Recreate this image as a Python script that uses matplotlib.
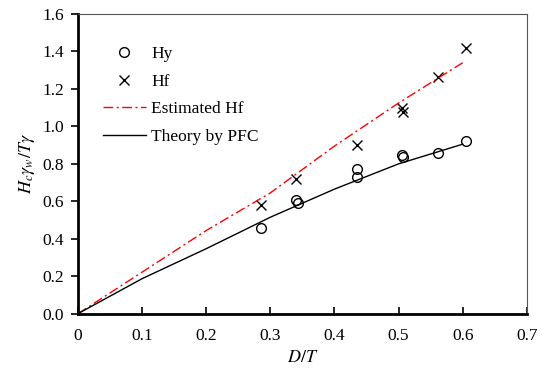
import numpy as np
import matplotlib.pyplot as plt

plt.rcParams['font.family'] = ['Liberation Serif', 'DejaVu Serif']
plt.rcParams['mathtext.fontset'] = 'stix'

# measured points
hy_x = [0.285, 0.340, 0.343, 0.4345, 0.4345, 0.506, 0.507, 0.562, 0.6055]
hy_y = [0.455, 0.607, 0.591, 0.772, 0.728, 0.848, 0.839, 0.857, 0.923]
hf_x = [0.285, 0.340, 0.4345, 0.506, 0.507, 0.562, 0.6055]
hf_y = [0.578, 0.719, 0.900, 1.100, 1.077, 1.265, 1.416]

# estimated Hf curve
est_x = [0.0, 0.1, 0.2, 0.3, 0.4, 0.5, 0.6]
est_y = [0.0, 0.222, 0.444, 0.645, 0.895, 1.125, 1.340]

# theory by PFC
pfc_x = [0.0, 0.1, 0.2, 0.3, 0.4, 0.5, 0.6]
pfc_y = [0.0, 0.187, 0.347, 0.515, 0.665, 0.800, 0.905]

fig = plt.figure(figsize=(5.42, 3.69), dpi=100)
ax = fig.add_axes([0.144, 0.150, 0.828, 0.812])

ax.plot(hy_x, hy_y, 'o', mfc='none', mec='black', ms=7, mew=1.0, label='Hy')
ax.plot(hf_x, hf_y, 'x', color='black', ms=7, mew=1.0, label='Hf')
ax.plot(est_x, est_y, color='red', lw=1.0, dashes=(7, 2.5, 1.5, 2.5), label='Estimated Hf')
ax.plot(pfc_x, pfc_y, color='black', lw=1.0, label='Theory by PFC')

ax.set_xlim(0, 0.7)
ax.set_ylim(0, 1.6)
ax.set_xticks(np.arange(0, 0.71, 0.1))
ax.set_xticklabels(['0', '0.1', '0.2', '0.3', '0.4', '0.5', '0.6', '0.7'])
ax.set_yticks(np.arange(0, 1.61, 0.2))
ax.set_yticklabels([f'{v:.1f}' for v in np.arange(0, 1.61, 0.2)])

ax.tick_params(axis='x', direction='in', length=5, width=1.2, labelsize=12.5, pad=10)
ax.tick_params(axis='y', direction='out', length=5, width=1.2, labelsize=12.5, pad=5)

for s in ['left', 'bottom']:
    ax.spines[s].set_linewidth(2.0)
for s in ['top', 'right']:
    ax.spines[s].set_linewidth(0.8)
    ax.spines[s].set_color('#555555')

ax.set_xlabel('$D/T$', fontsize=13, labelpad=4)
ax.set_ylabel(r'$H_c\gamma_w/T\gamma$', fontsize=13, labelpad=4)

ax.legend(loc='upper left', bbox_to_anchor=(0.02, 0.945), frameon=False,
          fontsize=12.5, handlelength=2.5, labelspacing=0.65, handletextpad=0.3)

fig.savefig('out.png', dpi=100)
